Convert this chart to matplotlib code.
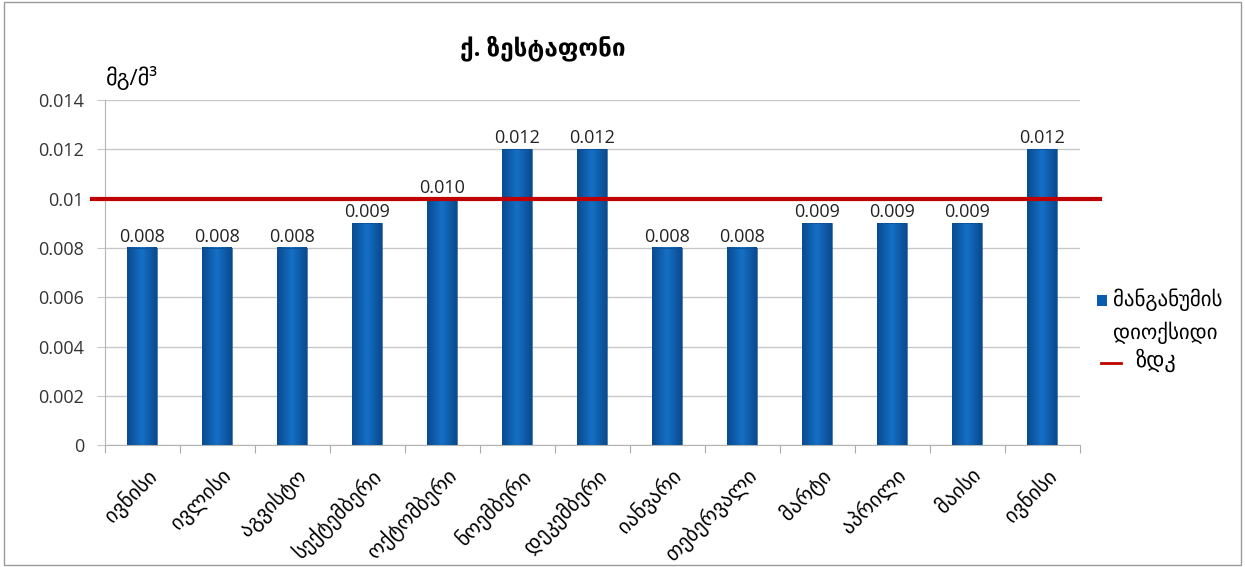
import numpy as np
import matplotlib.pyplot as plt
from matplotlib.patches import Rectangle
from matplotlib.lines import Line2D
from matplotlib.colors import LinearSegmentedColormap

# monthly concentration values and the permissible limit
months = ['ივნისი', 'ივლისი', 'აგვისტო', 'სექტემბერი', 'ოქტომბერი', 'ნოემბერი',
          'დეკემბერი', 'იანვარი', 'თებერვალი', 'მარტი', 'აპრილი', 'მაისი', 'ივნისი']
mno2 = [0.008, 0.008, 0.008, 0.009, 0.010, 0.012, 0.012, 0.008, 0.008, 0.009, 0.009, 0.009, 0.012]
labels = ['0.008', '0.008', '0.008', '0.009', '0.010', '0.012', '0.012',
          '0.008', '0.008', '0.009', '0.009', '0.009', '0.012']
limit = 0.01
yticks = [0, 0.002, 0.004, 0.006, 0.008, 0.01, 0.012, 0.014]
ytick_labels = ['0', '0.002', '0.004', '0.006', '0.008', '0.01', '0.012', '0.014']

plt.rcParams['font.family'] = ['Open Sans', 'DejaVu Sans']

fig = plt.figure(figsize=(12.45, 5.67), dpi=100)
fig.patches.append(Rectangle((0.003, 0.004), 0.994, 0.992, transform=fig.transFigure,
                             fill=False, edgecolor='#9a9a9a', linewidth=1))
ax = fig.add_axes([0.0843, 0.215, 0.7831, 0.6085])

x = list(range(len(months)))
bars = ax.bar(x, mno2, width=0.4, color='none', edgecolor='#0A4E94', linewidth=0.5, zorder=4)

# shaded fill: darker at the bar edges, lighter in the middle
shade = LinearSegmentedColormap.from_list('shade', ['#0A4A8E', '#1570C6', '#0A4A8E'])
grad = np.linspace(0, 1, 64).reshape(1, -1)
for b in bars:
    x0 = b.get_x()
    ax.imshow(grad, cmap=shade, extent=(x0, x0 + b.get_width(), 0, b.get_height()),
              aspect='auto', zorder=3, interpolation='bilinear')

for xi, v, t in zip(x, mno2, labels):
    ax.text(xi, v + 0.00008, t, ha='center', va='bottom', fontsize=13, color='#222222', zorder=4)

# limit line runs a bit past both ends of the plot area
ax.plot([-0.67, 12.77], [limit, limit], color='#C00000', linewidth=3, clip_on=False, zorder=5)

ax.set_xlim(-0.5, 12.5)
ax.set_ylim(0, 0.014)
ax.set_yticks(yticks)
ax.set_yticklabels(ytick_labels, fontsize=13, color='#333333')
ax.grid(axis='y', color='#c8c8c8', linewidth=1, zorder=0)

ax.set_xticks([i - 0.5 for i in range(len(months) + 1)])
ax.set_xticklabels([])
ax.tick_params(axis='x', length=6, color='#aaaaaa', direction='out')
ax.tick_params(axis='y', length=6, color='#c8c8c8', direction='out', pad=9)
for xi, m in zip(x, months):
    ax.text(xi + 0.04, -0.0008, m, rotation=45, ha='right', va='top', rotation_mode='anchor',
            fontsize=15, clip_on=False)

for s in ['top', 'right']:
    ax.spines[s].set_visible(False)
ax.spines['left'].set_color('#b4b4b4')
ax.spines['bottom'].set_color('#b4b4b4')

fig.text(0.436, 0.915, 'ქ. ზესტაფონი', ha='center', va='center', fontsize=17.5, fontweight='bold')
fig.text(0.085, 0.862, 'მგ/მ³', ha='left', va='center', fontsize=16)

# legend drawn by hand to keep the two-line layout
fig.patches.append(Rectangle((0.881, 0.460), 0.008, 0.019, transform=fig.transFigure,
                             facecolor='#0A5DAE', edgecolor='none'))
fig.text(0.894, 0.471, 'მანგანუმის', ha='left', va='center', fontsize=15)
fig.text(0.894, 0.413, 'დიოქსიდი', ha='left', va='center', fontsize=15)
fig.lines.append(Line2D([0.884, 0.900], [0.36, 0.36], transform=fig.transFigure,
                        color='#C00000', linewidth=2))
fig.text(0.912, 0.365, 'ზდკ', ha='left', va='center', fontsize=16)

fig.savefig('out.png', dpi=100)
